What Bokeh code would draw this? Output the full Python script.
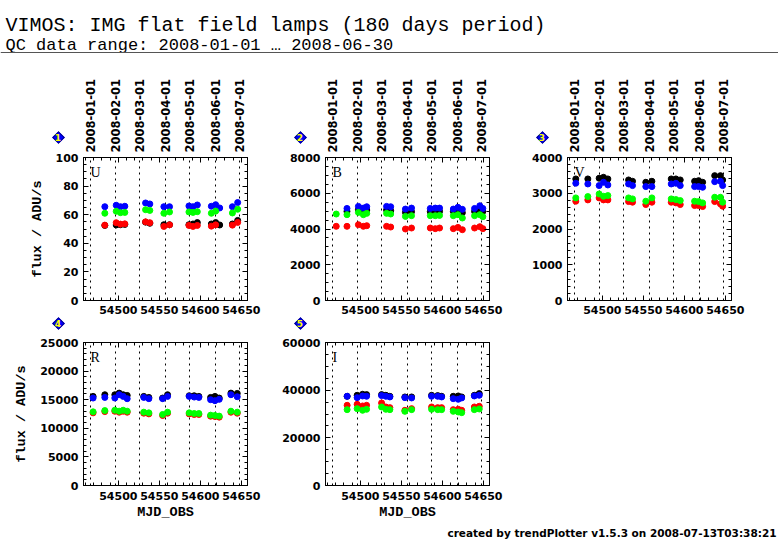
import math
from bokeh.plotting import figure
from bokeh.models import (LinearAxis, Range1d, SingleIntervalTicker, FixedTicker,
                          Label, Span, Grid, BasicTickFormatter, Spacer, Div)
from bokeh.layouts import column, row
from bokeh.embed import file_html
from bokeh.resources import INLINE

nan = float("nan")

TITLE = "VIMOS: IMG flat field lamps (180 days period)"
SUBTITLE = "QC data range: 2008-01-01 \u2026 2008-06-30"
FOOTER = "created by trendPlotter v1.5.3 on 2008-07-13T03:38:21"
Y_LABEL = "flux / ADU/s"
X_LABEL = "MJD_OBS"

date_labels = ["2008-01-01", "2008-02-01", "2008-03-01", "2008-04-01",
               "2008-05-01", "2008-06-01", "2008-07-01"]
date_mjd = [54466, 54497, 54526, 54557, 54587, 54618, 54648]
x_start, x_end = 54457.5, 54657.5

# ---- panel 1: U
u_mjd = [54483.5, 54497.4, 54502.6, 54507.9, 54533.2, 54538.4, 54555.5, 54562.4,
         54586.1, 54591.0, 54596.3, 54613.4, 54618.7, 54623.6, 54639.1, 54645.5]
u_black = [52.5, 52.8, 53.0, 53.2, 54.8, 54.0, 53.0, 53.0, 53.0, 53.5, 54.5, 53.5, 54.5, 52.8, 53.5, 56.0]
u_blue = [65.6, 66.6, 65.6, 65.9, 68.2, 67.5, 65.6, 65.6, 66.1, 65.6, 66.8, 65.9, 67.0, 64.7, 65.6, 68.5]
u_red = [52.7, 54.4, 53.4, 53.6, 55.0, 54.4, 51.8, 52.9, 52.5, 51.8, 52.5, 52.0, 52.9, nan, 52.7, 54.6]
u_green = [61.0, 62.4, 61.4, 61.6, 63.5, 63.0, 61.0, 61.9, 61.9, 61.6, 62.1, 61.0, 62.5, nan, 61.2, 63.8]

# ---- panel 2: B
b_mjd = [54470.6, 54483.7, 54497.6, 54503.7, 54507.8, 54532.0, 54537.0, 54555.0, 54562.4,
         54585.3, 54591.4, 54596.6, 54613.4, 54619.0, 54624.4, 54639.3, 54645.7, 54649.4]
b_black = [nan, 4985, 5080, 5020, 5060, 5060, 5020, 4930, 4970, 4970, 5000, 4985, 4985, 4985, 4910, 4985, 5020, 4985]
b_blue = [nan, 5150, 5265, 5170, 5245, 5265, 5245, 5115, 5170, 5150, 5170, 5170, 5115, 5210, 5100, 5150, 5300, 5150]
b_red = [4150, 4150, 4240, 4150, 4185, 4150, 4110, 4000, 4055, 4055, 4020, 4055, 4020, 4090, 3960, 4055, 4130, 4020]
b_green = [4837, 4800, 4930, 4800, 4875, 4875, 4840, 4705, 4745, 4745, 4745, 4760, 4745, 4800, 4615, 4745, 4800, 4690]

# ---- panel 3: V
v_mjd = [54467.6, 54482.3, 54496.1, 54501.4, 54506.7, 54532.0, 54536.8, 54553.0, 54560.4,
         54584.0, 54589.7, 54595.0, 54612.5, 54617.4, 54622.3, 54637.0, 54644.0, 54646.7]
v_black = [3400, 3400, 3420, 3446, 3400, 3372, 3335, 3307, 3335, 3400, 3400, 3372, 3335, 3353, 3307, 3493, 3493, 3372]
v_blue = [3280, 3260, 3215, 3307, 3232, 3260, 3214, 3186, 3186, 3260, 3279, 3214, 3186, 3186, 3167, 3325, 3335, 3214]
v_red = [2777, 2814, 2870, 2814, 2814, 2767, 2749, 2684, 2749, 2749, 2730, 2684, 2656, 2656, 2628, 2767, 2702, 2637]
v_green = [2870, 2907, 2980, 2916, 2935, 2870, 2842, 2777, 2870, 2842, 2823, 2795, 2777, 2767, 2730, 2888, 2888, 2749]

# ---- panel 4: R
r_mjd = [54469.2, 54483.5, 54495.7, 54501.0, 54505.9, 54510.8, 54531.0, 54537.2, 54554.0,
         54560.0, 54586.4, 54592.5, 54598.2, 54612.5, 54617.8, 54623.0, 54637.3, 54645.0]
r_black = [15580, 15870, 15870, 16150, 15870, 15750, 15580, 15400, 15290, 15870, 15690, 15690, 15580, 15400, 15580, 15290, 16150, 16100]
r_blue = [15290, 15400, 15290, 15870, 15580, 15180, 15400, 15180, 15180, 15580, 15580, 15460, 15400, 15000, 14830, 15060, 15870, 15520]
r_red = [12700, 12920, 12980, 12810, 12980, 12810, 12640, 12520, 12240, 12640, 12520, 12410, 12410, 12120, 12060, 11950, 12810, 12640]
r_green = [12880, 13100, 13160, 12990, 13160, 12990, 12820, 12700, 12420, 12820, 12700, 12590, 12590, 12300, 12240, 12130, 12990, 12820]

# ---- panel 5: I
i_mjd = [54483.9, 54496.1, 54502.7, 54507.6, 54525.9, 54531.1, 54536.0, 54554.3, 54562.5,
         54586.9, 54594.3, 54599.1, 54613.3, 54619.4, 54623.6, 54639.0, 54645.0]
i_black = [37430, 37850, 38270, 38130, 38130, 37850, 37430, 37150, 37150, 37850, 37710, 37430, 37430, 37570, 37150, 37850, 38550]
i_blue = [37430, 36870, 37570, 37430, 37710, 37430, 37150, 36870, 36730, 37430, 37430, 37150, 36450, 36170, 36730, 37570, 37850]
i_red = [33650, 34070, 33370, 33650, 34630, 32950, 32670, 31550, 32250, 32950, 32670, 32670, 31830, 31970, 31550, 32950, 33230]
i_green = [31830, 32250, 31550, 31970, 32950, 31970, 31830, 31120, 31830, 31970, 31830, 31830, 31120, 30840, 30560, 31830, 32110]

TICK_FONT = "DejaVu Sans"
MONO = "Liberation Mono"
FRAME_W = 164
FRAME_H = 143
RIGHT_B = 14
COLORS = {"black": "#000000", "blue": "#0000ff", "red": "#ff0000", "green": "#00ff00"}


def style_axis(ax):
    ax.axis_line_color = "black"
    ax.major_tick_in = 5
    ax.major_tick_out = 0
    ax.minor_tick_in = 3
    ax.minor_tick_out = 0
    ax.major_tick_line_color = "black"
    ax.minor_tick_line_color = "black"
    ax.major_label_text_font = TICK_FONT
    ax.major_label_text_font_style = "bold"
    ax.major_label_text_font_size = "11px"
    ax.major_label_text_color = "black"
    ax.axis_label_text_font = MONO
    ax.axis_label_text_font_style = "bold"
    ax.axis_label_text_font_size = "13.5px"
    ax.axis_label_text_color = "black"


def hide_labels(ax):
    ax.major_label_text_font_size = "1px"
    ax.major_label_text_color = None
    ax.major_label_standoff = 0


def blank(w, h):
    b = figure(width=w, height=h, x_range=Range1d(0, w), y_range=Range1d(0, h),
               output_backend="svg", toolbar_location=None, min_border=0,
               x_axis_location=None, y_axis_location=None)
    b.title.visible = False
    b.outline_line_color = None
    b.grid.visible = False
    return b


def badge(num, w, h, cx, cy_top):
    s = 9
    html = (
        f'<div style="position:relative;width:{w}px;height:{h}px;margin:0;padding:0;">'
        f'<div style="position:absolute;left:{cx - s / 2}px;top:{cy_top - s / 2}px;'
        f'width:{s}px;height:{s}px;background:#0000ff;border:1px solid #00008b;'
        'box-sizing:border-box;transform:rotate(45deg);"></div>'
        f'<div style="position:absolute;left:{cx - 6}px;top:{cy_top - 6}px;width:12px;'
        'height:12px;line-height:12px;text-align:center;color:#ffff00;'
        "font-family:'DejaVu Sans';font-weight:bold;font-size:9px;\">"
        f'{num}</div></div>'
    )
    return Div(text=html, width=w, height=h, margin=0)


def date_fig():
    d = figure(width=FRAME_W + RIGHT_B, height=97, x_range=Range1d(x_start, x_end),
               y_range=Range1d(0, 1), output_backend="svg", toolbar_location=None,
               min_border_left=0, min_border_right=RIGHT_B, min_border_top=96,
               min_border_bottom=0, x_axis_location=None, y_axis_location=None)
    d.title.visible = False
    d.outline_line_color = None
    d.grid.visible = False
    ax = LinearAxis(ticker=FixedTicker(ticks=date_mjd),
                    major_label_overrides={m: s for m, s in zip(date_mjd, date_labels)},
                    major_label_orientation=math.pi / 2)
    style_axis(ax)
    ax.major_label_text_font_size = "11.5px"
    ax.axis_line_color = None
    ax.major_tick_line_color = None
    ax.minor_tick_line_color = None
    ax.major_label_standoff = 0
    d.add_layout(ax, "above")
    return d


def make_panel(band, mjd, black, blue, red, green, ymax, ystep, nminor,
               ylabel, xlabel, left, height, bottom, xstandoff):
    p = figure(width=left + FRAME_W + RIGHT_B, height=height, x_range=Range1d(x_start, x_end),
               y_range=Range1d(0, ymax), output_backend="svg", toolbar_location=None,
               min_border_left=left, min_border_right=RIGHT_B, min_border_top=4,
               min_border_bottom=bottom)
    p.title.visible = False
    p.outline_line_color = "black"
    p.grid.visible = False

    xt = SingleIntervalTicker(interval=50, num_minor_ticks=5)
    yt = SingleIntervalTicker(interval=ystep, num_minor_ticks=nminor)

    bx = p.below[0]
    bx.ticker = xt
    bx.formatter = BasicTickFormatter(use_scientific=False)
    style_axis(bx)
    bx.major_label_standoff = xstandoff
    if xlabel:
        bx.axis_label = xlabel
        bx.axis_label_standoff = 2

    ly = p.left[0]
    ly.ticker = yt
    ly.formatter = BasicTickFormatter(use_scientific=False)
    style_axis(ly)
    ly.major_label_standoff = 5
    if ylabel:
        ly.axis_label = ylabel
        ly.axis_label_standoff = 8

    ry = LinearAxis(ticker=yt)
    style_axis(ry)
    hide_labels(ry)
    p.add_layout(ry, "right")

    tx = LinearAxis(ticker=SingleIntervalTicker(interval=50, num_minor_ticks=5))
    style_axis(tx)
    hide_labels(tx)
    p.add_layout(tx, "above")

    p.add_layout(Grid(dimension=0, ticker=FixedTicker(ticks=date_mjd),
                      grid_line_color="black", grid_line_dash="2 4", grid_line_width=1))

    for vals, key in ((black, "black"), (blue, "blue"), (red, "red"), (green, "green")):
        p.scatter(mjd, vals, size=6, marker="circle",
                  fill_color=COLORS[key], line_color=COLORS[key])

    p.add_layout(Label(x=7, y=FRAME_H - 7, x_units="screen", y_units="screen", text=band,
                       text_font="Liberation Serif", text_font_size="14px",
                       text_baseline="top", text_color="black"))
    return p


L1, L2 = 75, 64   # left borders of first and other columns

f1 = make_panel("U", u_mjd, u_black, u_blue, u_red, u_green, 100, 20, 4,
                Y_LABEL, None, L1, 165, 18, 5)
f2 = make_panel("B", b_mjd, b_black, b_blue, b_red, b_green, 8000, 2000, 4,
                None, None, L2, 165, 18, 5)
f3 = make_panel("V", v_mjd, v_black, v_blue, v_red, v_green, 4000, 1000, 5,
                None, None, L2, 165, 18, 5)
f4 = make_panel("R", r_mjd, r_black, r_blue, r_red, r_green, 25000, 5000, 5,
                Y_LABEL, X_LABEL, L1, 184, 37, 6)
f5 = make_panel("I", i_mjd, i_black, i_blue, i_red, i_green, 60000, 20000, 4,
                None, X_LABEL, L2, 184, 37, 6)

# header
hdr = blank(778, 56)
hdr.add_layout(Label(x=5, y=31, text=TITLE, text_font=MONO, text_font_size="20px",
                     text_baseline="alphabetic", text_color="black"))
hdr.add_layout(Label(x=5, y=11, text=SUBTITLE, text_font=MONO, text_font_size="17px",
                     text_baseline="alphabetic", text_color="black"))
hdr.add_layout(Span(location=4, dimension="width", line_color="#555555", line_width=1))

# badges + date axes row
row_a = row(Spacer(width=8, height=97),
            badge(1, L1, 97, L1 - 25, 81.5), date_fig(),
            badge(2, L2, 97, L2 - 25, 81.5), date_fig(),
            badge(3, L2, 97, L2 - 25, 81.5), date_fig())
row_b = row(Spacer(width=8, height=165), f1, f2, f3)
row_c = row(Spacer(width=8, height=20),
            badge(4, L1 + FRAME_W + RIGHT_B, 20, L1 - 25, 5.5),
            badge(5, L2 + FRAME_W + RIGHT_B, 20, L2 - 25, 5.5))
row_d = row(Spacer(width=8, height=184), f4, f5)

ftr = blank(778, 18)
ftr.add_layout(Label(x=776, y=8, text=FOOTER, text_font=TICK_FONT, text_font_style="bold",
                     text_font_size="10.5px", text_align="right", text_baseline="alphabetic",
                     text_color="black"))

layout = column(hdr, row_a, row_b, row_c, row_d, ftr)
open("out.html", "w").write(file_html(layout, INLINE))
